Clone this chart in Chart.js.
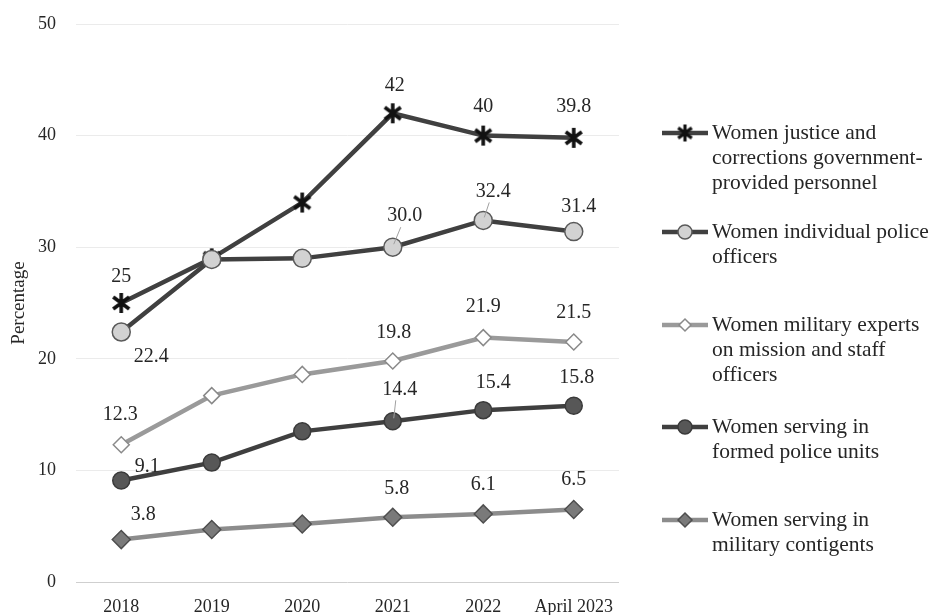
<!DOCTYPE html>
<html>
<head>
<meta charset="utf-8">
<title>Women in peacekeeping</title>
<script src="https://cdn.jsdelivr.net/npm/chart.js@4.4.0/dist/chart.umd.min.js"></script>
<style>
  html, body { margin: 0; padding: 0; background: #fff; }
  #wrap { width: 938px; height: 615px; position: relative; }
</style>
</head>
<body>
<div id="wrap"><canvas id="chart"></canvas></div>
<script>
// Categories and series values
const years = ['2018', '2019', '2020', '2021', '2022', 'April 2023'];
const justiceVals        = [25, 29.0, 34.0, 42, 40, 39.8];
const policeOfficerVals  = [22.4, 28.9, 29.0, 30.0, 32.4, 31.4];
const militaryExpertVals = [12.3, 16.7, 18.6, 19.8, 21.9, 21.5];
const formedPoliceVals   = [9.1, 10.7, 13.5, 14.4, 15.4, 15.8];
const contingentVals     = [3.8, 4.7, 5.2, 5.8, 6.1, 6.5];

// Legend names, already broken into lines
const seriesNames = [
    ['Women justice and', 'corrections government-', 'provided personnel'],
    ['Women individual police', 'officers'],
    ['Women military experts', 'on mission and staff', 'officers'],
    ['Women serving in', 'formed police units'],
    ['Women serving in', 'military contigents']
];

// Which points carry a value label
const labelledPoints = [
    [0, 3, 4, 5],
    [0, 3, 4, 5],
    [0, 3, 4, 5],
    [0, 3, 4, 5],
    [0, 3, 4, 5]
];

const SERIF = '"Liberation Serif", "Times New Roman", serif';

// Asterisk marker (Excel style: X + vertical bar)
function makeAsterisk(size, lw) {
    const c = document.createElement('canvas');
    c.width = size; c.height = size;
    const g = c.getContext('2d');
    g.strokeStyle = '#111';
    g.lineWidth = lw;
    g.lineCap = 'butt';
    const m = size / 2, r = size / 2 - 1;
    g.beginPath();
    g.moveTo(m, m - r); g.lineTo(m, m + r);
    g.moveTo(m - r * 0.8, m - r * 0.6); g.lineTo(m + r * 0.8, m + r * 0.6);
    g.moveTo(m - r * 0.8, m + r * 0.6); g.lineTo(m + r * 0.8, m - r * 0.6);
    g.stroke();
    return c;
}
const asteriskBig   = makeAsterisk(22, 3.6);
const asteriskSmall = makeAsterisk(19, 3.2);

const styles = [
    { line: '#404040', fill: '#111',    border: '#111',    style: asteriskBig, legendStyle: asteriskSmall, r: 10, lr: 9 },
    { line: '#404040', fill: '#d2d2d2', border: '#5a5a5a', style: 'circle',    r: 9, lr: 7 },
    { line: '#9a9a9a', fill: '#ffffff', border: '#8a8a8a', style: 'rectRot',   r: 8, lr: 6 },
    { line: '#3f3f3f', fill: '#575757', border: '#3a3a3a', style: 'circle',    r: 8.5, lr: 7 },
    { line: '#8c8c8c', fill: '#7a7a7a', border: '#4f4f4f', style: 'rectRot',   r: 9, lr: 7 }
];
const allValues = [justiceVals, policeOfficerVals, militaryExpertVals, formedPoliceVals, contingentVals];

// Label offsets from their point: [dx, dy, leader line?]
const labelOffsets = [
    { 0: [0, -26], 3: [2, -28], 4: [0, -29], 5: [0, -31] },
    { 0: [30, 25], 3: [12, -31, true], 4: [10, -29, true], 5: [5, -25] },
    { 0: [-1, -30], 3: [1, -28], 4: [0, -31], 5: [0, -29] },
    { 0: [26, -14], 3: [7, -32, true], 4: [10, -27], 5: [3, -28] },
    { 0: [22, -25], 3: [4, -29], 4: [0, -29], 5: [0, -30] }
];

function fmt(di, v) {
    return di === 0 ? String(v) : v.toFixed(1);
}

const pointLabels = {
    id: 'pointLabels',
    afterDatasetsDraw(chart) {
        const ctx = chart.ctx;
        ctx.save();
        ctx.font = '20px ' + SERIF;
        ctx.textAlign = 'center';
        ctx.textBaseline = 'middle';
        chart.data.datasets.forEach((ds, di) => {
            const meta = chart.getDatasetMeta(di);
            labelledPoints[di].forEach(i => {
                const p = meta.data[i];
                const off = labelOffsets[di][i] || [0, -28];
                const lx = p.x + off[0], ly = p.y + off[1];
                if (off[2]) {
                    ctx.strokeStyle = '#a0a0a0';
                    ctx.lineWidth = 1;
                    ctx.beginPath();
                    ctx.moveTo(p.x + 1, p.y - 3);
                    ctx.lineTo(lx - 4, ly + 11);
                    ctx.stroke();
                }
                ctx.fillStyle = '#262626';
                ctx.fillText(fmt(di, ds.data[i]), lx, ly);
            });
        });
        ctx.restore();
    }
};

// Legend on the right, with wrapped names
const sideLegend = {
    id: 'sideLegend',
    afterDraw(chart) {
        const ctx = chart.ctx;
        const rowsY = [133, 232, 325, 427, 520];
        const x0 = 662, x1 = 708, mx = 685, tx = 712, lh = 25;
        ctx.save();
        seriesNames.forEach((lines, di) => {
            const s = styles[di];
            const y = rowsY[di];
            ctx.strokeStyle = s.line;
            ctx.lineWidth = 4.5;
            ctx.beginPath();
            ctx.moveTo(x0, y); ctx.lineTo(x1, y);
            ctx.stroke();
            ctx.fillStyle = s.fill;
            ctx.strokeStyle = s.border;
            ctx.lineWidth = 1.5;
            Chart.helpers.drawPoint(ctx, {
                pointStyle: s.legendStyle || s.style,
                radius: s.lr,
                rotation: 0,
                borderWidth: 1.5
            }, mx, y);
            ctx.fillStyle = '#262626';
            ctx.font = '21.5px ' + SERIF;
            ctx.textAlign = 'left';
            ctx.textBaseline = 'middle';
            lines.forEach((t, k) => ctx.fillText(t, tx, y + k * lh));
        });
        ctx.restore();
    }
};

const datasets = allValues.map((vals, di) => ({
    label: seriesNames[di].join(' '),
    data: vals,
    borderColor: styles[di].line,
    borderWidth: 4.5,
    backgroundColor: styles[di].fill,
    pointStyle: styles[di].style,
    pointRadius: styles[di].r,
    pointHoverRadius: styles[di].r,
    pointBackgroundColor: styles[di].fill,
    pointBorderColor: styles[di].border,
    pointBorderWidth: 1.5,
    tension: 0,
    order: 5 - di
}));

new Chart(document.getElementById('chart'), {
    type: 'line',
    data: { labels: years, datasets: datasets },
    options: {
        responsive: true,
        maintainAspectRatio: false,
        animation: false,
        layout: { padding: { left: 0, top: 24, right: 319, bottom: 0 } },
        plugins: {
            legend: { display: false },
            tooltip: { enabled: false }
        },
        scales: {
            x: {
                offset: true,
                grid: { display: false, drawTicks: false },
                border: { display: false },
                ticks: { color: '#262626', font: { family: SERIF, size: 18 }, padding: 14, maxRotation: 0 },
                afterFit: s => { s.height = 33; }
            },
            y: {
                min: 0,
                max: 50,
                ticks: { stepSize: 10, color: '#262626', font: { family: SERIF, size: 18 }, padding: 20 },
                grid: {
                    drawTicks: false,
                    lineWidth: 1,
                    color: c => (c.tick && c.tick.value === 0) ? '#cfcfcf' : '#ebebeb'
                },
                border: { display: false },
                title: { display: true, text: 'Percentage', color: '#262626', font: { family: SERIF, size: 19 }, padding: { top: 8, bottom: 4 } },
                afterFit: s => { s.width = 76; s.paddingTop = 0; s.paddingBottom = 0; }
            }
        }
    },
    plugins: [pointLabels, sideLegend]
});
</script>
</body>
</html>
